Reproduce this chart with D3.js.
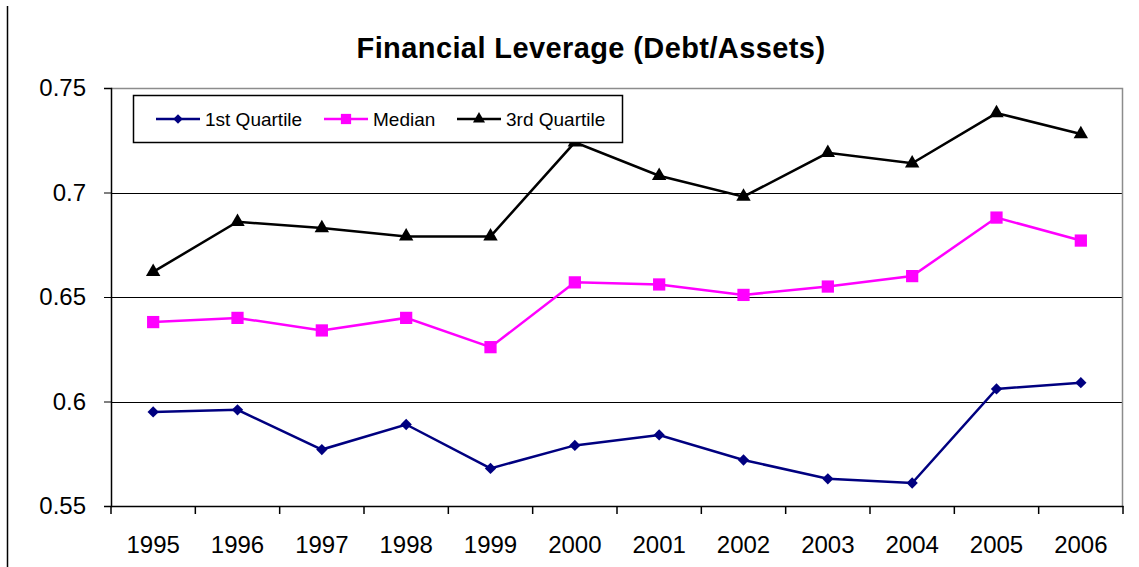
<!DOCTYPE html>
<html>
<head>
<meta charset="utf-8">
<script src="https://cdn.jsdelivr.net/npm/d3@7"></script>
<style>
  body { margin: 0; background: #fff; }
  text { font-family: "Liberation Sans", Arial, sans-serif; }
</style>
</head>
<body>
<div id="chart"></div>
<script>
// data
const years = ["1995","1996","1997","1998","1999","2000","2001","2002","2003","2004","2005","2006"];
const q1 = [0.595,0.596,0.577,0.589,0.568,0.579,0.584,0.572,0.563,0.561,0.606,0.609];
const median = [0.638,0.640,0.634,0.640,0.626,0.657,0.656,0.651,0.655,0.660,0.688,0.677];
const q3 = [0.662,0.686,0.683,0.679,0.679,0.724,0.708,0.698,0.719,0.714,0.738,0.728];
const yTicks = [0.55,0.6,0.65,0.7,0.75];

const width = 1139, height = 567;
const margin = {top: 88, right: 16, bottom: 61, left: 111};

const svg = d3.select("#chart")
  .append("svg")
  .attr("width", width)
  .attr("height", height);

// frame line at far left
svg.append("line")
  .attr("x1", 7.5).attr("x2", 7.5)
  .attr("y1", 6).attr("y2", height)
  .attr("stroke", "black").attr("stroke-width", 1.5);

// title
svg.append("text")
  .attr("x", 591).attr("y", 58)
  .attr("text-anchor", "middle")
  .attr("font-size", "29px")
  .attr("font-weight", "bold")
  .attr("letter-spacing", "0.4px")
  .text("Financial Leverage (Debt/Assets)");

// scales
const x = d3.scaleBand()
  .domain(years)
  .range([margin.left, width - margin.right]);

const y = d3.scaleLinear()
  .domain([0.55, 0.75])
  .range([height - margin.bottom, margin.top]);

// gridlines
svg.append("g")
  .selectAll("line")
  .data(yTicks.filter(d => d > 0.55 && d < 0.75))
  .enter()
    .append("line")
    .attr("x1", margin.left).attr("x2", width - margin.right)
    .attr("y1", d => Math.round(y(d)) + 0.5)
    .attr("y2", d => Math.round(y(d)) + 0.5)
    .attr("stroke", "black");

// gray top / right border
svg.append("path")
  .attr("d", `M${margin.left},${margin.top + 0.5}H${width - margin.right - 0.5}V${height - margin.bottom}`)
  .attr("fill", "none")
  .attr("stroke", "#8c8c8c")
  .attr("stroke-width", 1.5);

// y axis
const yAxis = svg.append("g")
  .attr("transform", `translate(${margin.left},0)`)
  .call(d3.axisLeft(y).tickValues(yTicks).tickFormat(d => String(d)).tickSize(7).tickPadding(18));
yAxis.select(".domain").attr("stroke-width", 1.5);
yAxis.selectAll("text").attr("font-size", "24px").attr("fill", "black")
  .attr("font-family", "'Liberation Sans', Arial, sans-serif");

// x axis, ticks between categories
const xAxis = svg.append("g")
  .attr("transform", `translate(0,${height - margin.bottom})`)
  .call(d3.axisBottom(x).tickSize(0).tickPadding(30));
xAxis.select(".domain").attr("stroke-width", 1.5);
xAxis.selectAll("text").attr("font-size", "24px").attr("fill", "black")
  .attr("font-family", "'Liberation Sans', Arial, sans-serif");
xAxis.selectAll(".sep")
  .data(years.concat(["end"]))
  .enter()
    .append("line")
    .attr("class", "sep")
    .attr("x1", (d, i) => i < years.length ? x(d) : x(years[years.length - 1]) + x.bandwidth())
    .attr("x2", (d, i) => i < years.length ? x(d) : x(years[years.length - 1]) + x.bandwidth())
    .attr("y1", 0).attr("y2", 8)
    .attr("stroke", "black").attr("stroke-width", 1.5);

const series = [
  {name: "1st Quartile", values: q1, color: "#000080", symbol: d3.symbolSquare, size: 64, rotate: 45},
  {name: "Median", values: median, color: "#ff00ff", symbol: d3.symbolSquare, size: 150, rotate: 0},
  {name: "3rd Quartile", values: q3, color: "#000000", symbol: d3.symbolTriangle, size: 90, rotate: 0}
];

const line = d3.line()
  .x((d, i) => x(years[i]) + x.bandwidth() / 2)
  .y(d => y(d));

series.forEach(s => {
  svg.append("path")
    .datum(s.values)
    .attr("d", line)
    .attr("fill", "none")
    .attr("stroke", s.color)
    .attr("stroke-width", 2.5);

  svg.selectAll(null)
    .data(s.values)
    .enter()
      .append("path")
      .attr("transform", (d, i) => `translate(${x(years[i]) + x.bandwidth() / 2},${y(d)}) rotate(${s.rotate})`)
      .attr("d", d3.symbol().type(s.symbol).size(s.size))
      .attr("fill", s.color);
});

// legend
const legend = svg.append("g");
legend.append("rect")
  .attr("x", 133.5).attr("y", 95.5)
  .attr("width", 489).attr("height", 47)
  .attr("fill", "white")
  .attr("stroke", "black").attr("stroke-width", 1.5);

const legendX = [156, 324, 457];
series.forEach((s, i) => {
  const g = legend.append("g").attr("transform", `translate(${legendX[i]},119)`);
  g.append("line")
    .attr("x1", 0).attr("x2", 44)
    .attr("stroke", s.color).attr("stroke-width", 2.5);
  g.append("path")
    .attr("transform", `translate(22,0) rotate(${s.rotate})`)
    .attr("d", d3.symbol().type(s.symbol).size(s.size * 0.7))
    .attr("fill", s.color);
  g.append("text")
    .attr("x", 49).attr("y", 7)
    .attr("font-size", "19px")
    .text(s.name);
});
</script>
</body>
</html>
